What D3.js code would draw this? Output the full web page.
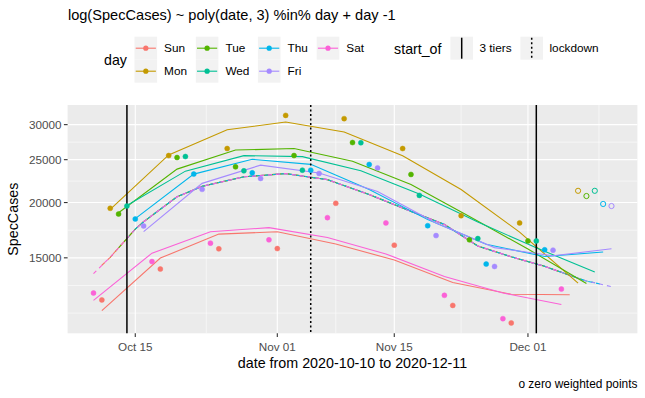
<!DOCTYPE html>
<html><head><meta charset="utf-8">
<script src="https://cdn.jsdelivr.net/npm/d3@7"></script>
<style>body{margin:0;background:#fff} text{font-family:"Liberation Sans",Arial,Helvetica,sans-serif}</style>
</head><body><svg id="c" width="645" height="398"></svg>
<script>
// ---------- data ----------
const days = ["Sun","Mon","Tue","Wed","Thu","Fri","Sat"];
const dayColors = ["#F8766D","#C49A00","#53B400","#00C094","#00B6EB","#A58AFF","#FB61D7"];
const firstDates = ["2020-10-11","2020-10-12","2020-10-13","2020-10-14","2020-10-15","2020-10-16","2020-10-10"];
const zeroWeightFrom = "2020-12-07";

// observed SpecCases, weekly per weekday (null = not shown)
const sunCases = [12050,14150,15720,15740,19920,16020,11710,10690,null];
const monCases = [19410,25540,26490,31480,30950,26490,18680,17990,21260];
const tueCases = [18840,25280,24080,25540,27330,23150,16470,16380,20690];
const wedCases = [19640,25410,23590,23670,27300,20760,16580,16380,21260];
const thuCases = [18360,23190,23340,23670,24380,17730,14520,15640,19850];
const friCases = [17710,21420,22670,23270,23950,16840,14340,15610,19640];
const satCases = [12490,14710,16190,16470,18490,17990,12340,10930,12750];

// fitted values, weekly per weekday
const sunFit = [11400,14980,16970,17180,16120,14830,13190,12410,12380];
const monFit = [19300,25620,29200,30410,28870,25500,21400,17150,13150];
const tueFit = [18970,23800,26280,26490,24800,21960,18600,15700,13120];
const wedFit = [19700,23550,25530,25400,23590,20900,18070,15800,13930];
const thuFit = [18400,23190,25050,24400,21400,18300,16100,15100,15460];
const friFit = [17190,22100,24300,23330,21190,17980,15820,15160,15730];
const satFit = [12020,15370,17180,17550,16680,15310,13610,12490,11770];

// common trend (dashed)
const trendDates = ["2020-10-10","2020-10-11","2020-10-12","2020-10-13","2020-10-14","2020-10-15","2020-10-16",
  "2020-10-20","2020-10-23","2020-10-28","2020-11-02","2020-11-07","2020-11-12","2020-11-17","2020-11-21",
  "2020-11-25","2020-11-29","2020-12-03","2020-12-05","2020-12-06","2020-12-07","2020-12-08","2020-12-09",
  "2020-12-10","2020-12-11"];
const trendValues = [13810,14430,15040,15800,16580,17420,18100,
  20610,21760,22870,23250,22530,20850,19100,17850,
  15950,15080,14350,13910,13700,13490,13290,13170,13040,12910];

const tierDates = ["2020-10-14","2020-12-02"];
const lockdownDates = ["2020-11-05"];
const xTicks = ["2020-10-15","2020-11-01","2020-11-15","2020-12-01"];
const yTicks = [15000,20000,25000,30000];
const dataRange = ["2020-10-10","2020-12-11"];

const casesByDay = [sunCases,monCases,tueCases,wedCases,thuCases,friCases,satCases];
const fitByDay = [sunFit,monFit,tueFit,wedFit,thuFit,friFit,satFit];

// ---------- build ----------
const parse = d3.utcParse("%Y-%m-%d");
const DAY = 864e5;
const series = days.map((d,i)=>{
  const f = parse(firstDates[i]);
  const dates = casesByDay[i].map((_,k)=>new Date(+f + 7*k*DAY));
  return {day:d, color:dayColors[i], dates, cases:casesByDay[i], fit:fitByDay[i], first:f, last:dates[dates.length-1]};
});
const zw = parse(zeroWeightFrom);
const trend = trendDates.map((d,i)=>({date:parse(d), v:trendValues[i]}));

const svg = d3.select("#c");
const P = {l:67.6, r:637.4, t:105, b:333.3};

const d0 = parse(dataRange[0]), d1 = parse(dataRange[1]);
const ex = (d1-d0)*0.05;
const x = d3.scaleUtc().domain([new Date(+d0-ex), new Date(+d1+ex)]).range([P.l,P.r]);

const allV = [];
series.forEach(s=>{s.cases.forEach(v=>{if(v!=null)allV.push(v)}); s.fit.forEach(v=>allV.push(v));});
trendValues.forEach(v=>allV.push(v));
const lmin = Math.log(d3.min(allV)), lmax = Math.log(d3.max(allV));
const ey = (lmax-lmin)*0.05;
const y = d3.scaleLog().domain([Math.exp(lmin-ey), Math.exp(lmax+ey)]).range([P.b,P.t]);

// panel
svg.append("rect").attr("x",P.l).attr("y",P.t).attr("width",P.r-P.l).attr("height",P.b-P.t).attr("fill","#EBEBEB");

// minor grid (ggplot-style)
function minorBreaks(b, lo, hi){
  b = b.slice(); const bd = b[1]-b[0];
  if (lo < b[0]) b.unshift(b[0]-bd);
  if (hi > b[b.length-1]) b.push(b[b.length-1]+bd);
  const out=[];
  for(let i=0;i<b.length-1;i++){ out.push(b[i]); out.push((b[i]+b[i+1])/2); }
  out.push(b[b.length-1]);
  return out;
}
const ly = yTicks.map(Math.log);
const yDom = y.domain().map(Math.log);
minorBreaks(ly, yDom[0], yDom[1]).filter(v=>!ly.some(m=>Math.abs(m-v)<1e-9))
  .map(Math.exp).filter(v=>v>y.domain()[0]&&v<y.domain()[1])
  .forEach(v=>svg.append("line").attr("x1",P.l).attr("x2",P.r).attr("y1",y(v)).attr("y2",y(v)).attr("stroke","#fff").attr("stroke-width",0.55));
const lx = xTicks.map(d=>+parse(d));
const xDom = x.domain().map(Number);
minorBreaks(lx, xDom[0], xDom[1]).filter(v=>!lx.some(m=>Math.abs(m-v)<1))
  .filter(v=>v>xDom[0]&&v<xDom[1])
  .forEach(v=>svg.append("line").attr("y1",P.t).attr("y2",P.b).attr("x1",x(new Date(v))).attr("x2",x(new Date(v))).attr("stroke","#fff").attr("stroke-width",0.55));
// major grid
yTicks.forEach(v=>svg.append("line").attr("x1",P.l).attr("x2",P.r).attr("y1",y(v)).attr("y2",y(v)).attr("stroke","#fff").attr("stroke-width",1.1));
xTicks.forEach(d=>{const xx=x(parse(d)); svg.append("line").attr("y1",P.t).attr("y2",P.b).attr("x1",xx).attr("x2",xx).attr("stroke","#fff").attr("stroke-width",1.1);});

const plot = svg.append("g");
const line = d3.line().x(d=>x(d.date)).y(d=>y(d.v));

// dashed trend per day
series.forEach(s=>{
  const pts = trend.filter(t=>t.date>=s.first && t.date<=s.last);
  plot.append("path").attr("d",line(pts)).attr("fill","none").attr("stroke",s.color)
    .attr("stroke-width",1.1).attr("stroke-dasharray","4,4");
});
// fitted lines
series.forEach(s=>{
  const pts = s.dates.map((d,k)=>({date:d, v:s.fit[k]}));
  plot.append("path").attr("d",line(pts)).attr("fill","none").attr("stroke",s.color).attr("stroke-width",1.1);
});
// vertical lines
tierDates.forEach(d=>{const xx=x(parse(d)); plot.append("line").attr("x1",xx).attr("x2",xx).attr("y1",P.t).attr("y2",P.b).attr("stroke","#000").attr("stroke-width",1.5);});
lockdownDates.forEach(d=>{const xx=x(parse(d)); plot.append("line").attr("x1",xx).attr("x2",xx).attr("y1",P.t).attr("y2",P.b).attr("stroke","#000").attr("stroke-width",1.5).attr("stroke-dasharray","2,2.5");});
// points
series.forEach(s=>{
  s.dates.forEach((d,k)=>{
    const v = s.cases[k]; if (v==null) return;
    const hollow = d >= zw;
    plot.append("circle").attr("cx",x(d)).attr("cy",y(v)).attr("r",hollow?2.6:2.5)
      .attr("fill",hollow?"none":s.color).attr("stroke",s.color).attr("stroke-width",hollow?1:0.5);
  });
});

// axes
const tickCol = "#4D4D4D";
yTicks.forEach(v=>{
  svg.append("line").attr("x1",P.l-3.7).attr("x2",P.l).attr("y1",y(v)).attr("y2",y(v)).attr("stroke","#333").attr("stroke-width",1.1);
  svg.append("text").attr("x",P.l-6).attr("y",y(v)+4).attr("text-anchor","end").attr("font-size",11.7).attr("fill",tickCol).text(v);
});
const fmt = d3.utcFormat("%b %d");
xTicks.forEach(d=>{
  const xx = x(parse(d));
  svg.append("line").attr("x1",xx).attr("x2",xx).attr("y1",P.b).attr("y2",P.b+3.7).attr("stroke","#333").attr("stroke-width",1.1);
  svg.append("text").attr("x",xx).attr("y",350.5).attr("text-anchor","middle").attr("font-size",11.7).attr("fill",tickCol).text(fmt(parse(d)));
});
svg.append("text").attr("x",(P.l+P.r)/2).attr("y",367.5).attr("text-anchor","middle").attr("font-size",14.3).text("date from 2020-10-10 to 2020-12-11");
svg.append("text").attr("transform",`translate(17.8,${(P.t+P.b)/2}) rotate(-90)`).attr("text-anchor","middle").attr("font-size",14.3).text("SpecCases");
svg.append("text").attr("x",P.r).attr("y",388).attr("text-anchor","end").attr("font-size",11.9).text("o zero weighted points");
svg.append("text").attr("x",67.9).attr("y",20).attr("font-size",14.6).text("log(SpecCases) ~ poly(date, 3) %in% day + day -1");

// legend: day
svg.append("text").attr("x",104.1).attr("y",65).attr("font-size",14.2).text("day");
const colX = [134.5,195.8,257.9,316.7];
const rowY = [36.7,59.7];
const kw = 22.6, kh = 23;
series.forEach((s,i)=>{
  const c = Math.floor(i/2), r = i%2;
  const kx = colX[c], ky = rowY[r];
  svg.append("rect").attr("x",kx).attr("y",ky).attr("width",kw).attr("height",kh).attr("fill","#F2F2F2");
  svg.append("line").attr("x1",kx+1.2).attr("x2",kx+kw-1.2).attr("y1",ky+kh/2).attr("y2",ky+kh/2).attr("stroke",s.color).attr("stroke-width",1.1);
  svg.append("circle").attr("cx",kx+kw/2).attr("cy",ky+kh/2).attr("r",2.6).attr("fill",s.color);
  svg.append("text").attr("x",kx+kw+7).attr("y",ky+kh/2+4.1).attr("font-size",11.8).text(s.day);
});
// legend: start_of
svg.append("text").attr("x",394.1).attr("y",54.2).attr("font-size",14.2).text("start_of");
const soKeys = [{x:450.4,label:"3 tiers",dash:null},{x:520.4,label:"lockdown",dash:"2,2.5"}];
soKeys.forEach(k=>{
  svg.append("rect").attr("x",k.x).attr("y",36.7).attr("width",kw).attr("height",kh).attr("fill","#F2F2F2");
  const l = svg.append("line").attr("x1",k.x+kw/2).attr("x2",k.x+kw/2).attr("y1",37.7).attr("y2",36.7+kh-1).attr("stroke","#000").attr("stroke-width",1.5);
  if (k.dash) l.attr("stroke-dasharray",k.dash);
  svg.append("text").attr("x",k.x+kw+6.5).attr("y",52.3).attr("font-size",11.8).text(k.label);
});
</script></body></html>
